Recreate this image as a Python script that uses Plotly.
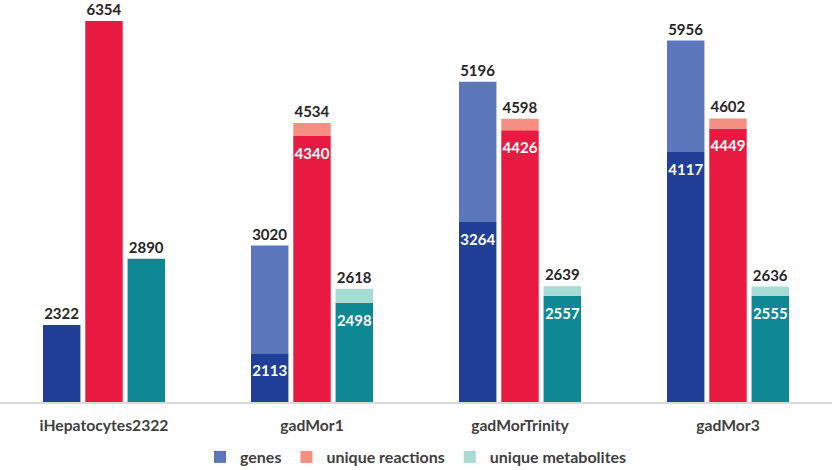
import plotly.graph_objects as go

categories = ["iHepatocytes2322", "gadMor1", "gadMorTrinity", "gadMor3"]

genes_total = [2322, 3020, 5196, 5956]
genes_shared = [2322, 2113, 3264, 4117]
reactions_total = [6354, 4534, 4598, 4602]
reactions_shared = [6354, 4340, 4426, 4449]
metabolites_total = [2890, 2618, 2639, 2636]
metabolites_shared = [2890, 2498, 2557, 2555]

series = [
    ("genes", "g", genes_total, genes_shared, "#203f97", "#5b76bb"),
    ("unique reactions", "r", reactions_total, reactions_shared, "#e81a41", "#f48f82"),
    ("unique metabolites", "m", metabolites_total, metabolites_shared, "#0d8894", "#a6dcd1"),
]

FONT = "Lato"
DARK = "#262626"

fig = go.Figure()

# shared (dark) parts
for name, grp, tot, base, dark, light in series:
    has_top = [t > b for t, b in zip(tot, base)]
    fig.add_trace(go.Bar(
        x=categories, y=base, offsetgroup=grp, showlegend=False,
        marker=dict(color=dark, line=dict(width=0)),
        text=["" if h else str(v) for v, h in zip(base, has_top)],
        textposition="outside",
        textangle=0,
        constraintext="none",
        textfont=dict(family=FONT, size=15, weight="bold", color=DARK),
        cliponaxis=False,
        hoverinfo="skip",
    ))

# unique (light) parts
for name, grp, tot, base, dark, light in series:
    diff = [t - b if t > b else None for t, b in zip(tot, base)]
    fig.add_trace(go.Bar(
        x=categories, y=diff, base=base, offsetgroup=grp, name=name,
        marker=dict(color=light, line=dict(width=0)),
        text=[str(t) if t > b else "" for t, b in zip(tot, base)],
        textposition="outside",
        textangle=0,
        constraintext="none",
        textfont=dict(family=FONT, size=15, weight="bold", color=DARK),
        cliponaxis=False,
        hoverinfo="skip",
    ))

# white labels just under the top of the shared parts
for name, grp, tot, base, dark, light in series:
    fig.add_trace(go.Scatter(
        x=categories, y=base, offsetgroup=grp, mode="markers+text", showlegend=False,
        text=[str(b) if t > b else "" for t, b in zip(tot, base)],
        textposition="bottom center",
        marker=dict(size=17, color="rgba(0,0,0,0)", line=dict(width=0)),
        textfont=dict(family=FONT, size=15, weight="bold", color="white", shadow="none"),
        cliponaxis=False,
        hoverinfo="skip",
    ))

fig.update_layout(
    width=832, height=470,
    margin=dict(l=0, r=0, t=0, b=68),
    paper_bgcolor="white", plot_bgcolor="white",
    barmode="group", bargap=0.39, bargroupgap=0.115,
    scattermode="group", scattergap=0.39,
    font=dict(family=FONT, size=15, color="#404040"),
    showlegend=True,
    legend=dict(orientation="h", x=0.5, xanchor="center",
                yref="container", y=(470 - 457) / 470, yanchor="middle",
                font=dict(family=FONT, size=16, color="#404040", weight="bold"),
                itemwidth=30, traceorder="normal"),
    xaxis=dict(showline=True, linecolor="#d9d9d9", linewidth=1.5, ticks="",
               showgrid=False, tickfont=dict(family=FONT, size=15.7, color="#404040", weight="bold"),
               ticklabelstandoff=8),
    yaxis=dict(type="log", range=[3.2549, 3.8333], visible=False, showgrid=False),
)

fig.write_html("out.html", config={"displayModeBar": False},
               post_script="document.body.style.margin='0';")
